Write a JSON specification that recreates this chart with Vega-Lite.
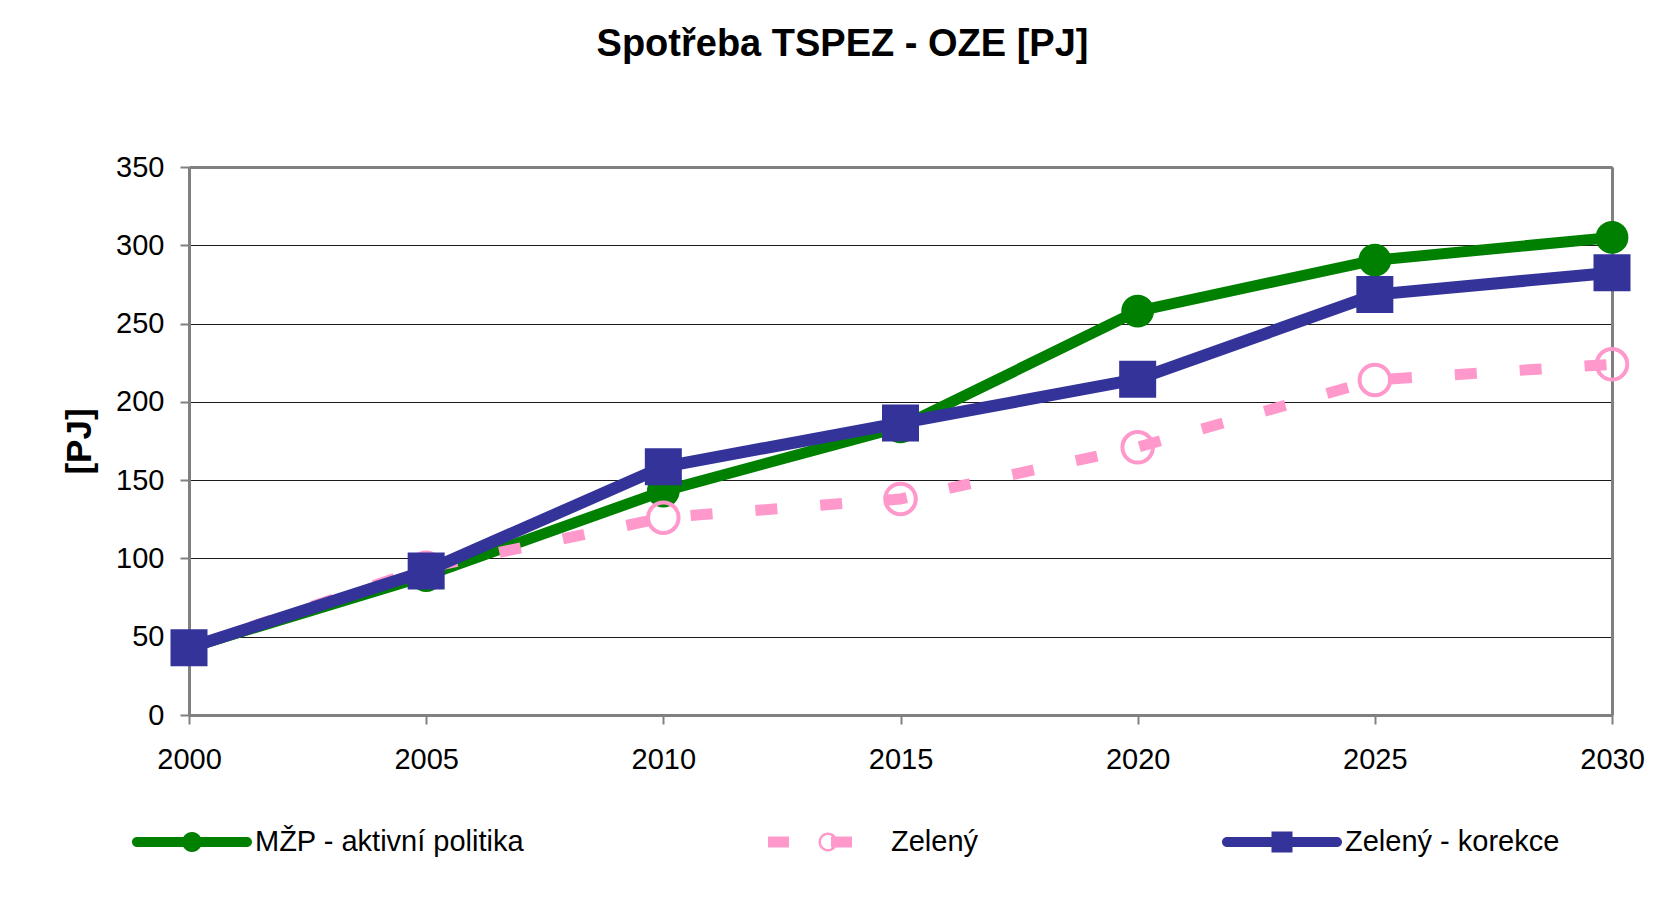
{
  "$schema": "https://vega.github.io/schema/vega-lite/v6.json",
  "width": 1423,
  "height": 548,
  "autosize": {"type": "none"},
  "padding": {"left": 189, "top": 167, "right": 53, "bottom": 186},
  "background": "white",
  "title": {
    "text": "Spotřeba TSPEZ - OZE [PJ]",
    "font": "Liberation Sans",
    "fontSize": 38,
    "fontWeight": "bold",
    "color": "black",
    "anchor": "middle",
    "frame": "group",
    "dx": -58,
    "offset": 89
  },
  "config": {
    "view": {"stroke": null},
    "axis": {
      "labelFont": "Liberation Sans",
      "labelFontSize": 29,
      "labelColor": "black",
      "labelOverlap": false,
      "labelFlush": false,
      "domainColor": "#808080",
      "domainWidth": 3,
      "tickColor": "#808080",
      "tickWidth": 2,
      "tickSize": 9
    }
  },
  "data": {
    "values": [
      {"year": 2000, "series": "MŽP - aktivní politika", "value": 43},
      {"year": 2005, "series": "MŽP - aktivní politika", "value": 89},
      {"year": 2010, "series": "MŽP - aktivní politika", "value": 143},
      {"year": 2015, "series": "MŽP - aktivní politika", "value": 184},
      {"year": 2020, "series": "MŽP - aktivní politika", "value": 258},
      {"year": 2025, "series": "MŽP - aktivní politika", "value": 290.5},
      {"year": 2030, "series": "MŽP - aktivní politika", "value": 305},
      {"year": 2000, "series": "Zelený", "value": 43},
      {"year": 2005, "series": "Zelený", "value": 94},
      {"year": 2010, "series": "Zelený", "value": 126},
      {"year": 2015, "series": "Zelený", "value": 138},
      {"year": 2020, "series": "Zelený", "value": 171},
      {"year": 2025, "series": "Zelený", "value": 214},
      {"year": 2030, "series": "Zelený", "value": 224},
      {"year": 2000, "series": "Zelený - korekce", "value": 43},
      {"year": 2005, "series": "Zelený - korekce", "value": 92},
      {"year": 2010, "series": "Zelený - korekce", "value": 158.5},
      {"year": 2015, "series": "Zelený - korekce", "value": 186.5},
      {"year": 2020, "series": "Zelený - korekce", "value": 214.5},
      {"year": 2025, "series": "Zelený - korekce", "value": 268.5},
      {"year": 2030, "series": "Zelený - korekce", "value": 282.5}
    ]
  },
  "resolve": {"axis": {"x": "independent", "y": "independent"}},
  "layer": [
    {
      "transform": [{"filter": {"field": "series", "equal": "MŽP - aktivní politika"}}],
      "mark": {"type": "line", "strokeWidth": 11, "strokeJoin": "round", "color": "#008000"},
      "encoding": {
        "x": {
          "field": "year", "type": "quantitative",
          "scale": {"domain": [2000, 2030], "nice": false, "zero": false},
          "axis": {"orient": "bottom", "values": [2000, 2005, 2010, 2015, 2020, 2025, 2030], "format": "d", "labelPadding": 21, "grid": false, "title": null}
        },
        "y": {
          "field": "value", "type": "quantitative",
          "scale": {"domain": [0, 350], "nice": false},
          "axis": {
            "orient": "left",
            "values": [0, 50, 100, 150, 200, 250, 300, 350],
            "labelPadding": 16,
            "grid": true, "gridColor": "#1a1a1a", "gridWidth": 1,
            "title": "[PJ]", "titleFont": "Liberation Sans", "titleFontSize": 35, "titleFontWeight": "bold", "titleColor": "black", "titlePadding": 18
          }
        }
      }
    },
    {
      "transform": [{"filter": {"field": "series", "equal": "Zelený"}}],
      "mark": {"type": "line", "strokeWidth": 11, "strokeJoin": "round", "color": "#FF99CC", "strokeDash": [22, 43]},
      "encoding": {
        "x": {"field": "year", "type": "quantitative", "axis": null},
        "y": {"field": "value", "type": "quantitative", "axis": null}
      }
    },
    {
      "transform": [{"filter": {"field": "series", "equal": "Zelený - korekce"}}],
      "mark": {"type": "line", "strokeWidth": 12, "strokeJoin": "round", "color": "#333399"},
      "encoding": {
        "x": {"field": "year", "type": "quantitative", "axis": null},
        "y": {"field": "value", "type": "quantitative", "axis": null}
      }
    },
    {
      "transform": [{"filter": {"field": "series", "equal": "MŽP - aktivní politika"}}],
      "mark": {"type": "point", "filled": true, "shape": "circle", "size": 1075, "color": "#008000", "opacity": 1},
      "encoding": {
        "x": {"field": "year", "type": "quantitative", "axis": null},
        "y": {"field": "value", "type": "quantitative", "axis": null}
      }
    },
    {
      "transform": [{"filter": {"field": "series", "equal": "Zelený"}}],
      "mark": {"type": "point", "filled": false, "shape": "circle", "size": 930, "stroke": "#FF99CC", "strokeWidth": 4, "opacity": 1},
      "encoding": {
        "x": {"field": "year", "type": "quantitative", "axis": null},
        "y": {"field": "value", "type": "quantitative", "axis": null}
      }
    },
    {
      "transform": [{"filter": {"field": "series", "equal": "Zelený - korekce"}}],
      "mark": {"type": "point", "filled": true, "shape": "square", "size": 1369, "color": "#333399", "opacity": 1},
      "encoding": {
        "x": {"field": "year", "type": "quantitative", "axis": null},
        "y": {"field": "value", "type": "quantitative", "axis": null}
      }
    },
    {
      "mark": {"type": "point", "filled": true, "opacity": 0},
      "encoding": {
        "x": {
          "field": "year", "type": "quantitative",
          "axis": {"orient": "top", "labels": false, "ticks": false, "domain": true, "grid": false, "title": null}
        },
        "y": {
          "field": "value", "type": "quantitative",
          "axis": {"orient": "right", "labels": false, "ticks": false, "domain": true, "grid": false, "title": null}
        },
        "color": {
          "field": "series", "type": "nominal",
          "scale": {"domain": ["MŽP - aktivní politika", "Zelený", "Zelený - korekce"], "range": ["#008000", "#FF99CC", "#333399"]},
          "legend": {
            "orient": "none", "legendX": -57, "legendY": 615, "direction": "horizontal", "columns": 3, "columnPadding": 243,
            "title": null, "symbolSize": 14400, "symbolStrokeWidth": 0, "symbolOpacity": 1,
            "labelFont": "Liberation Sans", "labelFontSize": 29, "labelColor": "black", "labelOffset": 3, "labelLimit": 1000,
            "encode": {"symbols": {"update": {"opacity": {"value": 1}}}}
          }
        },
        "shape": {
          "field": "series", "type": "nominal",
          "scale": {
            "domain": ["MŽP - aktivní politika", "Zelený", "Zelený - korekce"],
            "range": [
              "M-0.9167,-0.0833 L0.9167,-0.0833 C0.9627,-0.0833 1,-0.046 1,0 C1,0.046 0.9627,0.0833 0.9167,0.0833 L-0.9167,0.0833 C-0.9627,0.0833 -1,0.046 -1,0 C-1,-0.046 -0.9627,-0.0833 -0.9167,-0.0833 Z M0.1667,0 C0.1667,0.092 0.092,0.1667 0,0.1667 C-0.092,0.1667 -0.1667,0.092 -0.1667,0 C-0.1667,-0.092 -0.092,-0.1667 0,-0.1667 C0.092,-0.1667 0.1667,-0.092 0.1667,0 Z",
              "M-1,-0.0917 L-0.65,-0.0917 L-0.65,0.0917 L-1,0.0917 Z M0.05,-0.0917 L0.4,-0.0917 L0.4,0.0917 L0.05,0.0917 Z M0.158,0 C0.158,0.0872 0.0872,0.158 0,0.158 C-0.0872,0.158 -0.158,0.0872 -0.158,0 C-0.158,-0.0872 -0.0872,-0.158 0,-0.158 C0.0872,-0.158 0.158,-0.0872 0.158,0 Z M0.117,0 C0.117,-0.0646 0.0646,-0.117 0,-0.117 C-0.0646,-0.117 -0.117,-0.0646 -0.117,0 C-0.117,0.0646 -0.0646,0.117 0,0.117 C0.0646,0.117 0.117,0.0646 0.117,0 Z",
              "M-0.9167,-0.0833 L0.9167,-0.0833 C0.9627,-0.0833 1,-0.046 1,0 C1,0.046 0.9627,0.0833 0.9167,0.0833 L-0.9167,0.0833 C-0.9627,0.0833 -1,0.046 -1,0 C-1,-0.046 -0.9627,-0.0833 -0.9167,-0.0833 Z M-0.175,-0.175 L0.175,-0.175 L0.175,0.175 L-0.175,0.175 Z"
            ]
          },
          "legend": {
            "orient": "none", "legendX": -57, "legendY": 615, "direction": "horizontal", "columns": 3, "columnPadding": 243,
            "title": null, "symbolSize": 14400, "symbolStrokeWidth": 0, "symbolOpacity": 1,
            "labelFont": "Liberation Sans", "labelFontSize": 29, "labelColor": "black", "labelOffset": 3, "labelLimit": 1000,
            "encode": {"symbols": {"update": {"opacity": {"value": 1}}}}
          }
        }
      }
    }
  ]
}
